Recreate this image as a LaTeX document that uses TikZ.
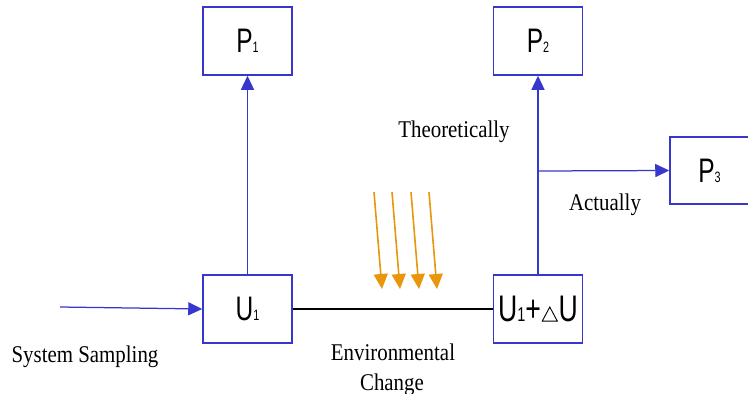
\documentclass[tikz,border=0pt]{standalone}
\usepackage{fontspec}
\usetikzlibrary{arrows.meta}
\newfontfamily\boxfont[FakeStretch=0.72]{Liberation Sans}
\newfontfamily\labfont[FakeStretch=0.87]{Liberation Serif}
\definecolor{cblue}{RGB}{55,55,205}
\definecolor{corange}{RGB}{232,150,12}
\newcommand{\bsub}[1]{{\fontsize{15}{15}\selectfont #1}}
\newcommand{\wtri}{\hspace{1pt}\tikz[x=1pt,y=1pt,baseline=0pt]{\draw[line width=0.9pt, line join=miter] (0,0.5) -- (15,0.5) -- (7.5,14.5) -- cycle;}\hspace{1pt}}
\tikzset{
  box/.style={draw=cblue, line width=1.5pt, fill=white, minimum width=89pt, minimum height=68pt, inner sep=0pt,
    font=\boxfont\fontsize{34}{34}\selectfont},
  bline/.style={draw=cblue, line width=1.25pt},
  barrow/.style={bline, -{Triangle[length=14pt,width=13pt]}},
  oarrow/.style={draw=corange, line width=1.6pt, -{Triangle[length=15pt,width=14pt]}},
  lab/.style={font=\labfont\fontsize{24}{24}\selectfont, anchor=base, inner sep=0pt}
}
\begin{document}
\begin{tikzpicture}[x=1pt,y=-1pt]
\useasboundingbox (0,0) rectangle (748,394);
% boxes
\node[box] (P1) at (247.5,41) {P\bsub{1}};
\node[box] (P2) at (538,41) {P\bsub{2}};
\node[box, minimum width=79pt, minimum height=67pt] (P3) at (709.5,170.5) {P\bsub{3}};
\node[box] (U1) at (247.5,309) {U\bsub{1}};
\node[box, font=\boxfont\fontsize{37}{37}\selectfont] (U2) at (538,309) {U{\fontsize{20}{20}\selectfont 1}+\wtri U};
% connectors
\draw[barrow] (U1.north) -- (P1.south);
\draw[barrow] (U2.north) -- (P2.south);
\coordinate (br) at (538,171);
\draw[barrow] (br) -- (P3.west);
\coordinate (ss) at (60,307);
\draw[barrow] (ss) -- (U1.west);
\draw[line width=1.5pt, black] (U1.east) -- (U2.west);
% orange arrows
\coordinate (o1s) at (374,192); \coordinate (o1e) at (382,289);
\coordinate (o2s) at (392,192); \coordinate (o2e) at (400,289);
\coordinate (o3s) at (411,192); \coordinate (o3e) at (419,289);
\coordinate (o4s) at (429,192); \coordinate (o4e) at (437,289);
\draw[oarrow] (o1s) -- (o1e);
\draw[oarrow] (o2s) -- (o2e);
\draw[oarrow] (o3s) -- (o3e);
\draw[oarrow] (o4s) -- (o4e);
% labels
\node[lab] (th) at (454,137) {Theoretically};
\node[lab] (ac) at (605,210) {Actually};
\node[lab] (sy) at (85,362) {System Sampling};
\node[lab] (en) at (393,360) {Environmental};
\node[lab] (ch) at (392,390) {Change};
\end{tikzpicture}
\end{document}
